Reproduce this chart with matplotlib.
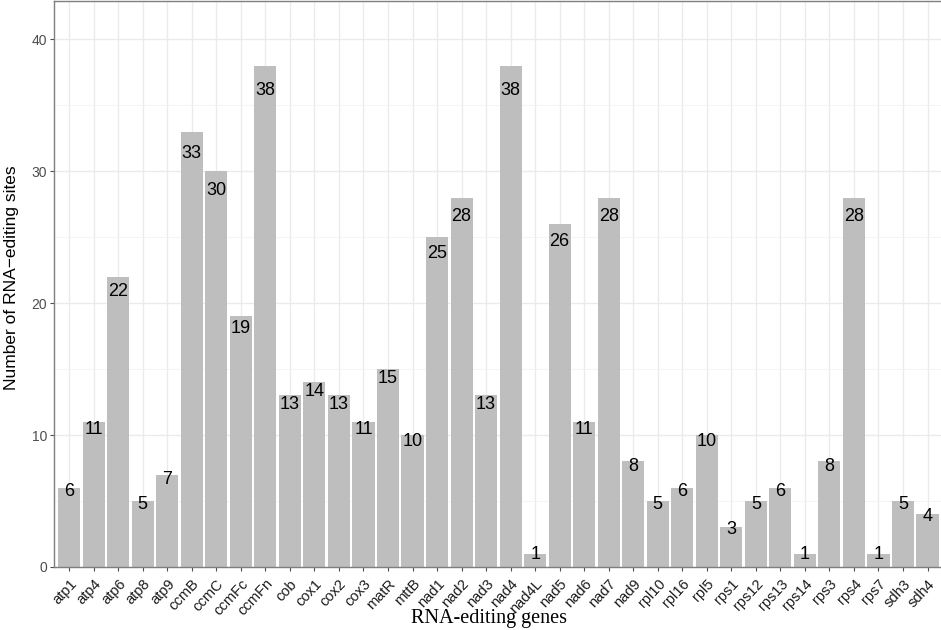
import numpy as np
import matplotlib.pyplot as plt
from matplotlib.ticker import MultipleLocator

genes = ["atp1", "atp4", "atp6", "atp8", "atp9", "ccmB", "ccmC", "ccmFc", "ccmFn",
         "cob", "cox1", "cox2", "cox3", "matR", "mttB", "nad1", "nad2", "nad3",
         "nad4", "nad4L", "nad5", "nad6", "nad7", "nad9", "rpl10", "rpl16", "rpl5",
         "rps1", "rps12", "rps13", "rps14", "rps3", "rps4", "rps7", "sdh3", "sdh4"]
sites = [6, 11, 22, 5, 7, 33, 30, 19, 38,
         13, 14, 13, 11, 15, 10, 25, 28, 13,
         38, 1, 26, 11, 28, 8, 5, 6, 10,
         3, 5, 6, 1, 8, 28, 1, 5, 4]

fig = plt.figure(figsize=(9.41, 6.3), dpi=100)
ax = fig.add_axes([54/941, 63/630, 887/941, 566/630])

x = np.arange(len(genes))
ax.bar(x, sites, width=0.9, color="#bebebe", zorder=2)
for xi, v in zip(x, sites):
    ax.text(xi, v*0.95, str(v), ha="center", va="center", fontsize=13,
            family="Liberation Sans", color="black", zorder=3)

ax.set_xlim(-0.62, len(genes) - 0.45)
ax.set_ylim(0, 42.9)
ax.set_xticks(x)
ax.set_xticklabels(genes, rotation=47, ha="right", rotation_mode="anchor",
                   fontsize=10.5, family="Liberation Sans", color="#1a1a1a")
ax.yaxis.set_major_locator(MultipleLocator(10))
ax.yaxis.set_minor_locator(MultipleLocator(5))
for lab in ax.get_yticklabels():
    lab.set_family("Liberation Sans")
    lab.set_fontsize(10)
    lab.set_color("#4d4d4d")

ax.grid(True, which="major", color="#ebebeb", lw=1.0, zorder=0)
ax.grid(True, which="minor", axis="y", color="#f2f2f2", lw=0.6, zorder=0)
ax.tick_params(axis="both", which="major", length=3, color="#4d4d4d", width=0.8, pad=2)
ax.tick_params(axis="x", which="major", pad=4)
ax.tick_params(axis="y", which="minor", length=0)

for side in ["left", "bottom", "top"]:
    ax.spines[side].set_color("#7f7f7f")
    ax.spines[side].set_linewidth(1.0)
ax.spines["right"].set_visible(False)

fig.text(12/941, 1 - 278/630, "Number of RNA\u2212editing sites", rotation=90,
         ha="center", va="center", fontsize=12.5, family="Liberation Sans")
fig.text(489/941, 1 - 619/630, "RNA-editing genes", ha="center", va="center",
         fontsize=14.5, family="Liberation Serif")

fig.savefig("out.png", dpi=100)
